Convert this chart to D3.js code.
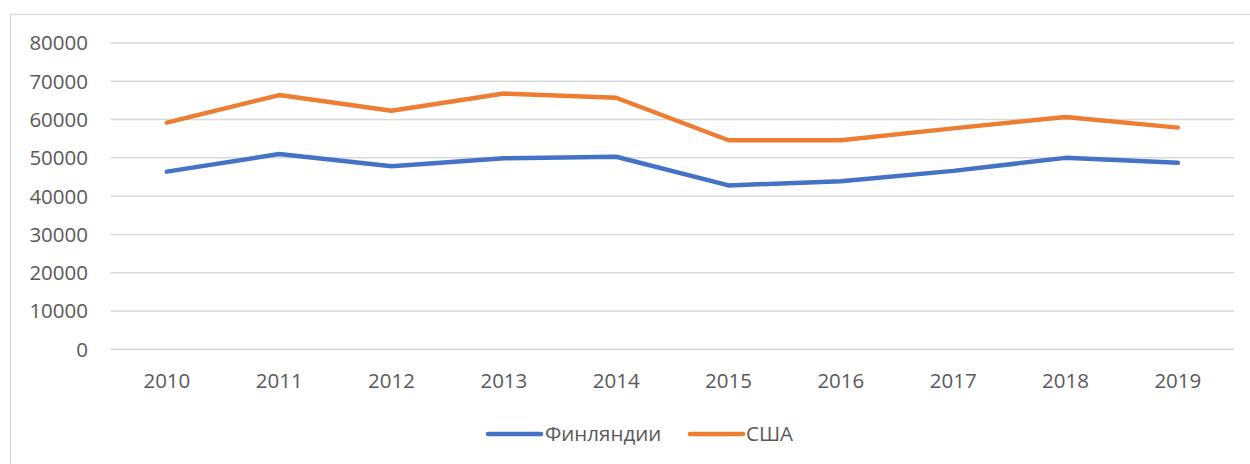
<!DOCTYPE html>
<html>
<head>
<meta charset="utf-8">
<script src="https://d3js.org/d3.v7.min.js"></script>
<style>
  body { margin: 0; background: #fff; }
  svg text { font-family: "Open Sans", "Liberation Sans", sans-serif; fill: #595959; }
</style>
</head>
<body>
<script>
// data
var years = ["2010","2011","2012","2013","2014","2015","2016","2017","2018","2019"];
var finland = [46400, 51000, 47800, 49900, 50300, 42800, 43900, 46600, 50000, 48700];
var usa = [59200, 66400, 62300, 66800, 65700, 54600, 54600, 57700, 60700, 57900];
var yTicks = [0, 10000, 20000, 30000, 40000, 50000, 60000, 70000, 80000];
var seriesNames = ["Финляндии", "США"];
var colors = ["#4472C4", "#ED7D31"];

var W = 1250, H = 464;
var svg = d3.select("body").append("svg").attr("width", W).attr("height", H);

// chart area border
svg.append("rect")
  .attr("x", 10.5).attr("y", 14.5)
  .attr("width", 1300).attr("height", 500)
  .attr("fill", "none").attr("stroke", "#d9d9d9").attr("stroke-width", 1.3);

var plotL = 110.7, plotR = 1234, plotT = 43, plotB = 349.3;

var x = d3.scaleBand().domain(years).range([plotL, plotR]);
var y = d3.scaleLinear().domain([0, 80000]).range([plotB, plotT]);

// gridlines
svg.append("g").selectAll("line")
  .data(yTicks).enter().append("line")
  .attr("x1", plotL).attr("x2", plotR)
  .attr("y1", function(d) { return y(d); })
  .attr("y2", function(d) { return y(d); })
  .attr("stroke", "#d9d9d9").attr("stroke-width", 1.5);

// y labels
svg.append("g").selectAll("text")
  .data(yTicks).enter().append("text")
  .attr("x", 88)
  .attr("y", function(d) { return y(d); })
  .attr("dy", "0.36em")
  .attr("text-anchor", "end")
  .style("font-size", "20.5px")
  .text(function(d) { return d; });

// x labels
svg.append("g").selectAll("text")
  .data(years).enter().append("text")
  .attr("x", function(d) { return x(d) + x.bandwidth() / 2; })
  .attr("y", 381)
  .attr("dy", "0.36em")
  .attr("text-anchor", "middle")
  .style("font-size", "20.5px")
  .text(function(d) { return d; });

var line = d3.line()
  .x(function(d, i) { return x(years[i]) + x.bandwidth() / 2; })
  .y(function(d) { return y(d); });

[finland, usa].forEach(function(vals, i) {
  svg.append("path")
    .datum(vals)
    .attr("d", line)
    .attr("fill", "none")
    .attr("stroke", colors[i])
    .attr("stroke-width", 4.5)
    .attr("stroke-linejoin", "round")
    .attr("stroke-linecap", "round");
});

// legend
var legend = [{x1: 488, x2: 541, tx: 545}, {x1: 690, x2: 743, tx: 746}];
legend.forEach(function(l, i) {
  svg.append("line")
    .attr("x1", l.x1).attr("x2", l.x2)
    .attr("y1", 434).attr("y2", 434)
    .attr("stroke", colors[i]).attr("stroke-width", 4.5)
    .attr("stroke-linecap", "round");
  svg.append("text")
    .attr("x", l.tx).attr("y", 434)
    .attr("dy", "0.36em")
    .style("font-size", "20.5px")
    .text(seriesNames[i]);
});
</script>
</body>
</html>
